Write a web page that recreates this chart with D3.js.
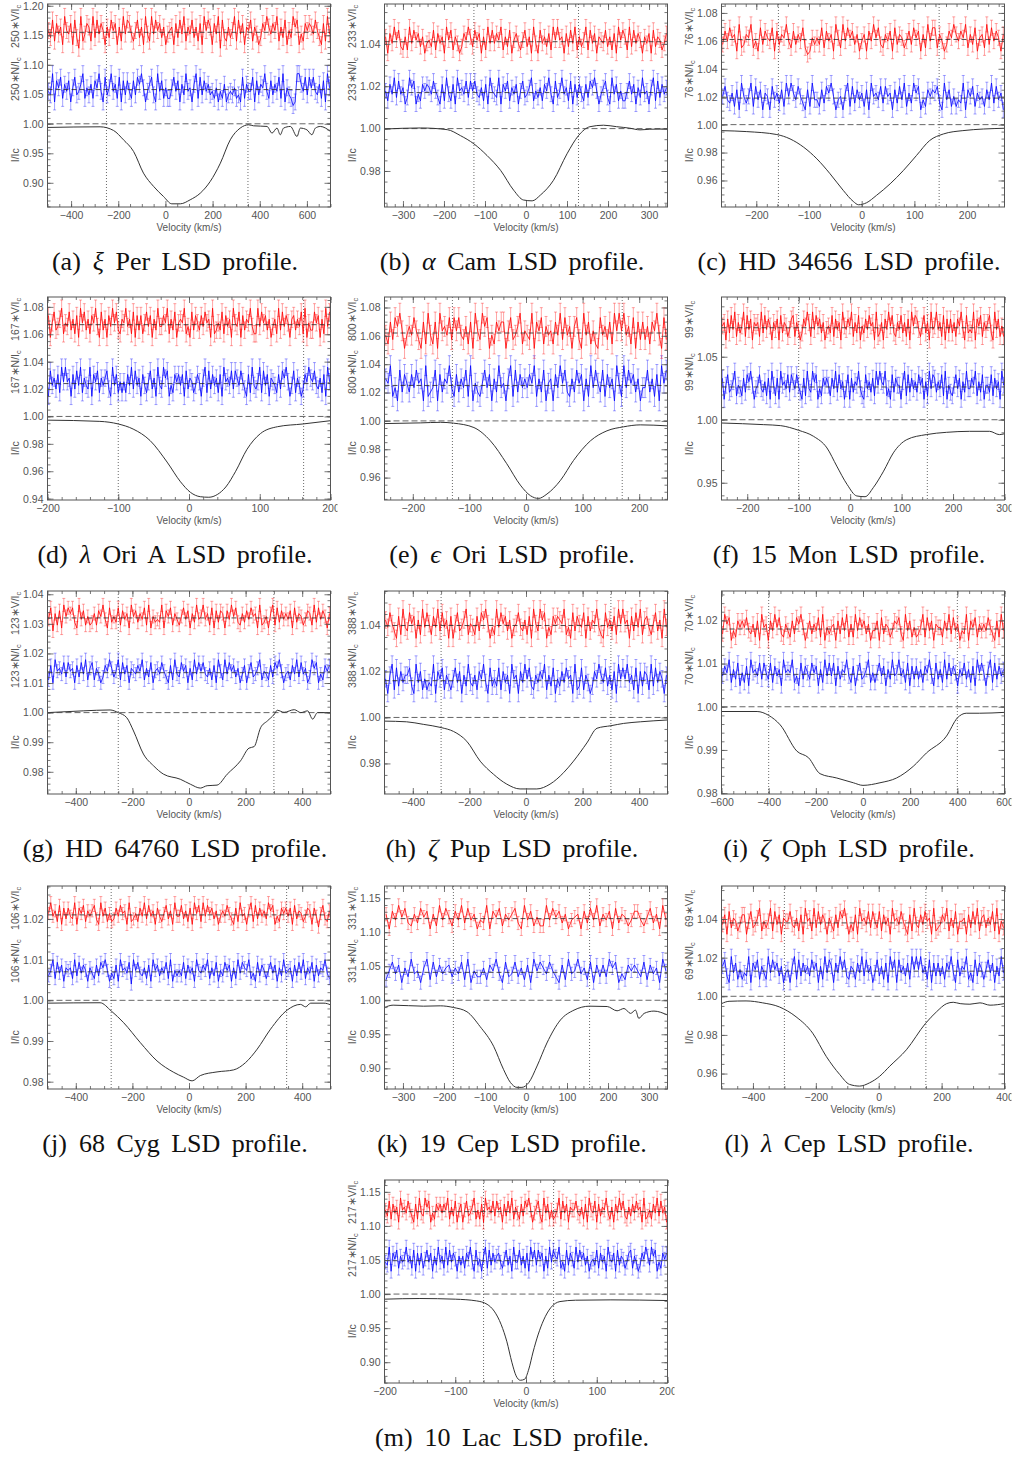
<!DOCTYPE html>
<html>
<head>
<meta charset="utf-8">
<script src="https://cdn.jsdelivr.net/npm/d3@7"></script>
<style>body{margin:0;background:#fff}</style>
</head>
<body>
<svg id="fig" width="1013" height="1458"></svg>
<script>
// caption pieces: letter, greek (italic), rest of star name
var captionLetters = ['a','b','c','d','e','f','g','h','i','j','k','l','m'];
var captionGreek = ['\u03be','\u03b1','','\u03bb','\u03f5','','','\u03b6','\u03b6','','','\u03bb',''];
var captionNames = [' Per', ' Cam', 'HD 34656', ' Ori A', ' Ori', '15 Mon', 'HD 64760', ' Pup', ' Oph', '68 Cyg', '19 Cep', ' Cep', '10 Lac'];
var scaleFactors = [250, 233, 76, 167, 800, 99, 123, 388, 70, 106, 331, 69, 217];

var xDomains = [[-500,700],[-345,345],[-266,271],[-200,200],[-250,250],[-250,300],[-500,500],
                [-500,500],[-600,600],[-500,500],[-345,345],[-500,400],[-200,200]];
var yDomains = [[0.859,1.203],[0.963,1.0588],[0.941,1.0864],[0.939,1.0872],[0.9442,1.0874],[0.9363,1.0974],
                [0.9725,1.0411],[0.9667,1.055],[0.9798,1.0268],[0.9782,1.0281],[0.8696,1.1679],[0.952,1.0571],[0.8695,1.1674]];
var xTickSteps = [200,100,100,100,100,100,200,200,200,200,100,200,100];
var xMinorSteps = [50,20,20,20,20,20,50,50,50,50,20,50,20];
var yTickSteps = [0.05,0.02,0.02,0.02,0.02,0.05,0.01,0.02,0.01,0.01,0.05,0.02,0.05];
var yMinorSteps = [0.01,0.005,0.005,0.005,0.005,0.01,0.002,0.005,0.002,0.002,0.01,0.005,0.01];

// integration limits (dotted lines)
var limits = [[-250,350],[-127,128],[-158,147],[-100,162],[-130,170],[-100,150],[-250,300],
              [-300,300],[-400,400],[-275,345],[-177,155],[-300,150],[-60,39]];

// shifted Stokes V and null N levels, and error bar sizes
var vMeans = [1.155,1.041,1.061,1.067,1.062,1.073,1.032,1.040,1.018,1.021,1.120,1.038,1.121];
var nMeans = [1.058,1.017,1.019,1.024,1.025,1.026,1.0135,1.016,1.0075,1.007,1.041,1.013,1.049];
var errBars = [0.0135,0.0035,0.0054,0.006,0.007,0.0063,0.0022,0.0036,0.0017,0.0015,0.0097,0.0038,0.010];

// Stokes I profiles [velocity, I/Ic]
var iProfiles = [
  [[-499,0.9938],[-277,0.9949],[-220,0.9887],[-178,0.9729],[-135,0.9531],[-93,0.9164],[-50,0.8938],[-8,0.8768],
   [27,0.8644],[63,0.8644],[105,0.8712],[148,0.8825],[190,0.9023],[233,0.9333],[275,0.9729],[317,0.9927],[353,0.9983],
   [374,0.9966],[431,0.9955],[452,0.9842],[473,0.9927],[487,0.9814],[501,0.9927],[530,0.9955],[558,0.9785],[572,0.9927],
   [600,0.9898],[621,0.9814],[636,0.9927],[657,0.9955],[700,0.9870]],
  [[-345,0.9998],[-257,1.0003],[-192,0.9995],[-160,0.9967],[-127,0.9928],[-95,0.9873],[-62,0.9803],[-30,0.9709],
   [-6,0.9663],[15,0.9659],[35,0.9686],[67,0.9756],[100,0.9881],[128,0.9967],[156,1.0009],[189,1.0016],[221,1.0009],
   [253,1.0002],[278,0.9994],[302,0.9997],[345,0.9998]],
  [[-266,0.9957],[-218,0.9950],[-161,0.9929],[-136,0.9898],[-110,0.9838],[-85,0.9755],[-60,0.9648],[-35,0.9529],
   [-16,0.9450],[-6,0.9426],[9,0.9440],[28,0.9493],[54,0.9576],[79,0.9671],[104,0.9779],[129,0.9886],[155,0.9933],
   [192,0.9957],[271,0.9974]],
  [[-200,0.9973],[-126,0.9964],[-100,0.9945],[-79,0.9908],[-55,0.9824],[-31,0.9667],[-12,0.9523],[2,0.9446],
   [16,0.9414],[28,0.9410],[40,0.9430],[52,0.9485],[66,0.9600],[82,0.9760],[101,0.9875],[125,0.9925],[161,0.9945],[200,0.9969]],
  [[-250,0.9981],[-186,0.9986],[-151,0.9990],[-128,0.9984],[-92,0.9953],[-63,0.9860],[-34,0.9698],[-10,0.9547],
   [8,0.9472],[22,0.9453],[37,0.9484],[61,0.9581],[84,0.9721],[114,0.9860],[143,0.9930],[172,0.9958],[202,0.9972],[250,0.9965]],
  [[-250,0.9974],[-168,0.9961],[-135,0.9953],[-100,0.9916],[-71,0.9868],[-45,0.9776],[-26,0.9632],[-6,0.9487],
   [13,0.9395],[29,0.9389],[45,0.9461],[65,0.9592],[84,0.9737],[110,0.9842],[148,0.9882],[187,0.9900],[232,0.9908],
   [271,0.9908],[290,0.9882],[300,0.9889]],
  [[-500,1.0000],[-374,1.0006],[-279,1.0009],[-250,1.0000],[-220,0.9983],[-196,0.9938],[-161,0.9860],[-125,0.9820],
   [-90,0.9792],[-31,0.9775],[5,0.9758],[40,0.9745],[64,0.9753],[99,0.9755],[135,0.9792],[182,0.9837],[212,0.9880],
   [230,0.9885],[253,0.9949],[277,0.9972],[301,0.9994],[312,1.0008],[336,1.0001],[372,1.0010],[395,1.0000],[419,1.0006],
   [437,0.9978],[454,1.0000],[500,1.0000]],
  [[-500,0.9984],[-422,0.9981],[-363,0.9970],[-300,0.9956],[-256,0.9939],[-209,0.9896],[-162,0.9810],[-115,0.9753],
   [-68,0.9710],[-21,0.9689],[38,0.9689],[85,0.9710],[133,0.9760],[168,0.9810],[215,0.9889],[251,0.9953],[300,0.9964],
   [345,0.9974],[404,0.9981],[500,0.9989]],
  [[-600,0.9989],[-449,0.9989],[-400,0.9980],[-351,0.9958],[-280,0.9897],[-231,0.9882],[-182,0.9845],[-111,0.9835],
   [-41,0.9824],[0,0.9818],[72,0.9824],[142,0.9835],[213,0.9862],[269,0.9893],[354,0.9932],[400,0.9974],[438,0.9985],
   [494,0.9985],[600,0.9987]],
  [[-500,0.9993],[-314,0.9994],[-275,0.9974],[-231,0.9945],[-172,0.9896],[-113,0.9851],[-54,0.9823],[-19,0.9811],
   [11,0.9802],[40,0.9815],[99,0.9824],[158,0.9829],[200,0.9847],[241,0.9880],[288,0.9929],[347,0.9976],[394,0.9990],
   [412,0.9984],[430,0.9993],[477,0.9993],[500,0.9989]],
  [[-345,0.9894],[-324,0.9928],[-250,0.9913],[-209,0.9918],[-177,0.9894],[-144,0.9831],[-112,0.9614],[-79,0.9324],
   [-55,0.8986],[-38,0.8792],[-22,0.8720],[-10,0.8720],[7,0.8792],[27,0.9034],[51,0.9372],[84,0.9710],[117,0.9855],
   [155,0.9913],[198,0.9908],[222,0.9845],[239,0.9879],[255,0.9807],[267,0.9855],[275,0.9734],[288,0.9807],[312,0.9841],[345,0.9783]],
  [[-500,0.9962],[-476,0.9974],[-422,0.9976],[-369,0.9966],[-316,0.9945],[-263,0.9894],[-210,0.9809],[-167,0.9689],
   [-124,0.9595],[-93,0.9544],[-61,0.9535],[-29,0.9552],[3,0.9586],[35,0.9638],[88,0.9723],[149,0.9860],[184,0.9920],
   [216,0.9962],[237,0.9969],[259,0.9962],[290,0.9959],[322,0.9966],[354,0.9954],[400,0.9962]],
  [[-200,0.9925],[-150,0.9935],[-100,0.9925],[-70,0.9900],[-55,0.9850],[-45,0.9750],[-35,0.9550],[-27,0.9300],
   [-20,0.9000],[-14,0.8800],[-8,0.8735],[-2,0.8750],[4,0.8900],[10,0.9150],[17,0.9400],[25,0.9620],[35,0.9800],
   [48,0.9890],[70,0.9910],[120,0.9915],[200,0.9905]]
];

// V and N point values, one digit per velocity bin (0 = mean - 2 err, 9 = mean + 2 err)
var vNoise = [
  '5382746195 4718309247 6293847516 3857162948 7425836194 2948573614 5617384926 4836271958 6174908326 3592847165 8264137596 4759263815 3968142757 6485317294',
  '6174958326 2948573614 5382746195 8264137596 3857162948 4759263815 7425836194 1846372959 5617384926 3592847165 4836271958 6293847516 4718365247',
  '3748561923 6592418375 4817365942 7364820153 5382746195 2948573614 6174958326 4718365247 3857162948 8264137596 4759263815 6293847516',
  '7158346925 4836271958 3627594183 6174958326 5946281737 2584716394 4759263815 6592418375 3748561923 5382746195 4817365942 2948573614 6293847516 7364829153 3857162948',
  '4273869514 6485317294 2719564838 5843627195 3968142757 7158346925 4391758264 5274938461 6831947252 1846372959 5946281737 3627594183',
  '5617384926 3592847165 6293847516 4718365247 8264137596 2948573614 5382746195 4759263815 3748561923 6174958326 4836271958 7425836194 5946281737 3627594183 4391758264 6831947252',
  '4806271958 6831947252 3627594183 5382746195 7364829153 4391758264 2584716394 5946281737 6174958326 3748561923 5169283746 4718365247 6293847516',
  '6485317294 3857162948 5274938461 7158346925 4273869514 2948573614 5843627195 3968142757 6592418375 4817365942 1846372959 5617384926 7425836194',
  '3968142757 5843627195 6174958326 4273869514 7364829153 5617384926 2948573614 4718365247 6831947252 3592847165 5274938461 4391758264 6485317294',
  '5946281737 4391758264 6831947252 3748561923 5274938461 7425836194 4836271958 2948573614 6485317294 5169283746 3968142757 4718365247 6174058326',
  '6174958326 3857162948 5274938461 4391758264 6831947252 2948573614 5617384926 4718365247 7425836194',
  '4718365247 7158346925 3592847165 5843627195 6293847516 4273869514 2719564838 5382746195 6485317294 3748561923 4759263815 5617384926 7364829153',
  '5382746195 6485317294 3968142757 4759263815 7158346925 2719564838 5617384926 4273869514 6831947252 3592847165 5843627195 4817365942 6174958326 3748561923 5274938461'
];
var nNoise = [
  '4391758264 7158346925 3627594183 5946281737 4273869514 6831947252 2584716394 5169283746 3425142613 4352318264 4817365942 7364829153 2019964838 5843627195',
  '5274938461 3968142757 6485317294 2719564838 5843627195 4391758264 7158346925 3627594183 5946281737 4273869514 6831947252 2584716394 5169283746',
  '5843627195 3592847165 1846372959 6485317294 4273869514 5169283746 2719564838 5617384926 3968142757 6831947252 4391758264 5274938461',
  '1846372959 5617384926 4391758264 6831947252 5274938461 7425836194 3968142757 4718365247 5169283746 2719564838 6485317294 3592847165 4273869514 8264137596 5843627195',
  '6592418375 3748561923 4817365942 7364829153 2584716394 5169283746 4759263815 6174958326 3857162948 5382746195 2948573614 4836271958',
  '7158346925 4273869514 5843627195 2719564838 6485317294 3968142757 5274938461 4817365942 1846372959 6592418375 5169283746 3857162948 7364829153 2584716394 4759263815 5382746195',
  '2719564838 5617384926 8264137596 3592847165 4759263815 6485317294 3857162948 5843627195 2948573614 7158346925 4273869514 5274938461 3968142757',
  '5169283746 6831947252 4391758264 2584716394 3627594183 5382746195 6174958326 4759263815 3748561923 8264137596 4836271958 5946281737 6293847516',
  '4759263815 2719564838 5382746195 6592418375 3857162948 4817365942 7158346925 2584716394 5946281737 3627594183 6293847516 4836271958 5169283746',
  '3592847165 6293847516 4273869514 2719564809 5843627195 7364829153 5382746195 4759263815 3857162948 6592418375 2584716394 5617384926 4817365942',
  '2584716394 5169283746 7364829153 3627594183 4836271958 6485317294 5946281737 3968142757 5382746195',
  '6831947252 4391758264 2948573614 5169283746 3857162948 6174958326 5274938461 4836271958 1846372959 5946281737 3627594183 6592418375 2584716394',
  '4391758264 5946281737 2584716394 6293847516 3627594183 5169283746 7425836194 4836271958 3857162948 6592418375 2948573614 5382746195 4718365247 8264137596 3968142757'
];

var colLeft = [47.5, 384.5, 721.5],
    rowTop = [4, 297, 591, 886, 1180],
    plotW = 283,
    plotH = 203,
    axisFont = 'Liberation Sans, Arial, sans-serif';

var svg = d3.select('#fig');
var defs = svg.append('defs');
defs.append('clipPath').attr('id', 'pclip')
    .append('rect').attr('x', -60).attr('y', -10).attr('width', plotW + 67).attr('height', plotH + 45);
defs.append('clipPath').attr('id', 'dclip')
    .append('rect').attr('x', 0).attr('y', 0).attr('width', plotW).attr('height', plotH);

function tickVals(dom, step) {
    var i0 = Math.ceil(dom[0] / step - 1e-6),
        i1 = Math.floor(dom[1] / step + 1e-6);
    return d3.range(i0, i1 + 1).map(function (i) { return +(i * step).toFixed(4); });
}

function styleAxis(sel) {
    sel.attr('color', '#555')
        .attr('font-family', axisFont)
        .attr('font-size', 10.5);
    sel.select('.domain').remove();
    sel.selectAll('line').attr('stroke-width', 0.8);
}

function decode(code, mean, err) {
    return code.replace(/ /g, '').split('').map(function (c) {
        return mean + (+c - 4.5) / 2.25 * err;
    });
}

function drawSeries(g, x, y, vals, xd, err, color) {
    var step = (xd[1] - xd[0]) / vals.length,
        pts = vals.map(function (v, i) { return {v: xd[0] + (i + 0.5) * step, f: v}; });
    g.append('g').selectAll('path').data(pts).enter().append('path')
        .attr('d', function (d) {
            var px = x(d.v), y0 = y(d.f - err), y1 = y(d.f + err);
            return 'M' + px + ',' + y0 + 'V' + y1 +
                   'M' + (px - 1.5) + ',' + y0 + 'h3' +
                   'M' + (px - 1.5) + ',' + y1 + 'h3';
        })
        .style('fill', 'none')
        .style('stroke', color)
        .style('stroke-opacity', 0.45)
        .style('stroke-width', 0.8);
    g.append('path').datum(pts)
        .attr('d', d3.line().x(function (d) { return x(d.v); }).y(function (d) { return y(d.f); }))
        .style('fill', 'none')
        .style('stroke', color)
        .style('stroke-width', 0.8);
}

function hLine(g, x, y, xd, level, color, dash, w) {
    g.append('line')
        .attr('x1', x(xd[0])).attr('x2', x(xd[1]))
        .attr('y1', y(level)).attr('y2', y(level))
        .style('stroke', color)
        .style('stroke-dasharray', dash)
        .style('stroke-width', w);
}

function yLabel(g, txt, sub, yc) {
    var t = g.append('text')
        .attr('transform', 'translate(-29,' + yc + ') rotate(-90)')
        .attr('text-anchor', 'middle')
        .style('font-family', axisFont)
        .style('font-size', '10.5px')
        .style('fill', '#555');
    t.append('tspan').text(txt);
    if (sub) {
        t.append('tspan').attr('dy', 2.5).style('font-size', '7.5px').text(sub);
    }
}

function drawPanel(k, row, col) {
    var left = colLeft[col], top = rowTop[row],
        xd = xDomains[k], yd = yDomains[k];
    var x = d3.scaleLinear().domain(xd).range([0, plotW]),
        y = d3.scaleLinear().domain(yd).range([plotH, 0]);

    var outer = svg.append('g')
        .attr('transform', 'translate(' + left + ',' + top + ')')
        .attr('clip-path', 'url(#pclip)');
    var g = outer.append('g').attr('clip-path', 'url(#dclip)');

    // continuum and integration limits
    hLine(g, x, y, xd, 1.0, '#666', '6,3', 1);
    limits[k].forEach(function (v) {
        g.append('line')
            .attr('x1', x(v)).attr('x2', x(v))
            .attr('y1', 0).attr('y2', plotH)
            .style('stroke', '#444')
            .style('stroke-dasharray', '1,2')
            .style('stroke-width', 0.8);
    });

    drawSeries(g, x, y, decode(nNoise[k], nMeans[k], errBars[k]), xd, errBars[k], '#0000ff');
    drawSeries(g, x, y, decode(vNoise[k], vMeans[k], errBars[k]), xd, errBars[k], '#ff0000');
    hLine(g, x, y, xd, vMeans[k], '#222', '5,3', 0.8);
    hLine(g, x, y, xd, nMeans[k], '#222', '5,3', 0.8);

    g.append('path').datum(iProfiles[k])
        .attr('d', d3.line().curve(d3.curveMonotoneX)
            .x(function (d) { return x(d[0]); })
            .y(function (d) { return y(d[1]); }))
        .style('fill', 'none')
        .style('stroke', '#333')
        .style('stroke-width', 1);

    // frame and ticks
    outer.append('rect')
        .attr('width', plotW).attr('height', plotH)
        .style('fill', 'none').style('stroke', '#555').style('stroke-width', 1);

    var xMaj = tickVals(xd, xTickSteps[k]), xMin = tickVals(xd, xMinorSteps[k]),
        yMaj = tickVals(yd, yTickSteps[k]), yMin = tickVals(yd, yMinorSteps[k]);

    outer.append('g').attr('transform', 'translate(0,' + plotH + ')')
        .call(d3.axisBottom(x).tickValues(xMaj).tickSize(-6).tickPadding(5).tickFormat(d3.format('d')))
        .call(styleAxis);
    outer.append('g').attr('transform', 'translate(0,' + plotH + ')')
        .call(d3.axisBottom(x).tickValues(xMin).tickSize(-3).tickFormat(''))
        .call(styleAxis);
    outer.append('g')
        .call(d3.axisTop(x).tickValues(xMaj).tickSize(-6).tickFormat(''))
        .call(styleAxis);
    outer.append('g')
        .call(d3.axisTop(x).tickValues(xMin).tickSize(-3).tickFormat(''))
        .call(styleAxis);
    outer.append('g')
        .call(d3.axisLeft(y).tickValues(yMaj).tickSize(-6).tickPadding(4).tickFormat(d3.format('.2f')))
        .call(styleAxis);
    outer.append('g')
        .call(d3.axisLeft(y).tickValues(yMin).tickSize(-3).tickFormat(''))
        .call(styleAxis);
    outer.append('g').attr('transform', 'translate(' + plotW + ',0)')
        .call(d3.axisRight(y).tickValues(yMaj).tickSize(-6).tickFormat(''))
        .call(styleAxis);
    outer.append('g').attr('transform', 'translate(' + plotW + ',0)')
        .call(d3.axisRight(y).tickValues(yMin).tickSize(-3).tickFormat(''))
        .call(styleAxis);

    outer.append('text')
        .attr('x', plotW / 2).attr('y', plotH + 24)
        .attr('text-anchor', 'middle')
        .style('font-family', axisFont)
        .style('font-size', '10px')
        .style('fill', '#555')
        .text('Velocity (km/s)');

    yLabel(outer, scaleFactors[k] + '\u2217V/I', 'c', plotH * 0.11);
    yLabel(outer, scaleFactors[k] + '\u2217N/I', 'c', plotH * 0.37);
    yLabel(outer, 'I/Ic', '', plotH * 0.745);

    // caption
    var cap = svg.append('text')
        .attr('x', left + plotW / 2 - 14)
        .attr('y', top + 266)
        .attr('text-anchor', 'middle')
        .style('font-family', 'Liberation Serif, Times New Roman, serif')
        .style('font-size', '26px')
        .style('word-spacing', '5px')
        .style('fill', '#111');
    cap.append('tspan').text('(' + captionLetters[k] + ')');
    if (captionGreek[k]) {
        cap.append('tspan').attr('dx', 12).style('font-style', 'italic').text(captionGreek[k]);
        cap.append('tspan').text(captionNames[k] + ' LSD profile.');
    } else {
        cap.append('tspan').attr('dx', 12).text(captionNames[k] + ' LSD profile.');
    }
}

var k;
for (k = 0; k < 13; k += 1) {
    if (k < 12) {
        drawPanel(k, Math.floor(k / 3), k % 3);
    } else {
        drawPanel(k, 4, 1);
    }
}
</script>
</body>
</html>
